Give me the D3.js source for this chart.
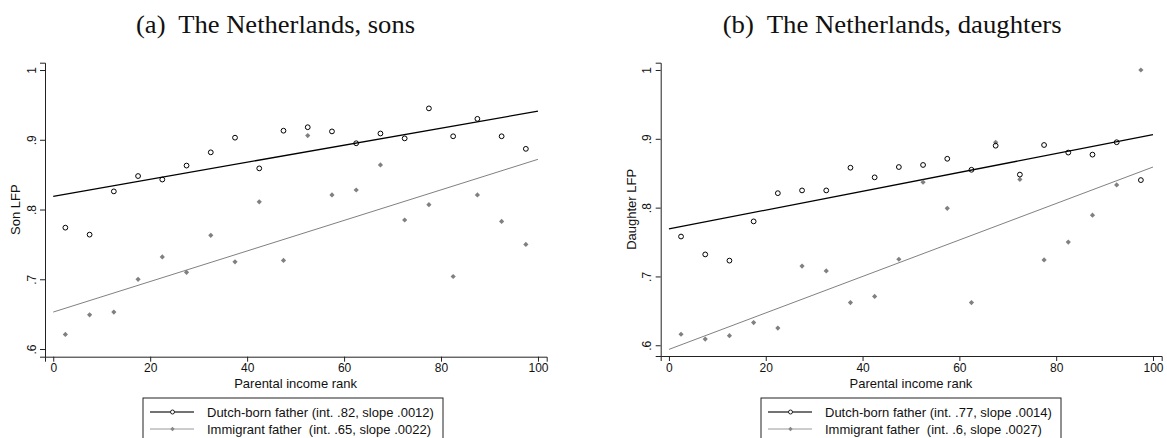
<!DOCTYPE html>
<html><head><meta charset="utf-8">
<script src="https://cdn.jsdelivr.net/npm/d3@7"></script>
<style>
body{margin:0;background:#fff;}
svg{display:block;}
text{white-space:pre;}
</style></head>
<body>
<svg id="chart" width="1167" height="438"></svg>
<script>
// ---- data ----
const ranks = [2.5,7.5,12.5,17.5,22.5,27.5,32.5,37.5,42.5,47.5,52.5,57.5,62.5,67.5,72.5,77.5,82.5,87.5,92.5,97.5];
const sonsDutch = [0.774,0.764,0.826,0.848,0.843,0.863,0.882,0.903,0.859,0.913,0.918,0.912,0.895,0.909,0.902,0.945,0.905,0.930,0.905,0.887];
const sonsImmig = [0.621,0.649,0.653,0.700,0.732,0.710,0.763,0.725,0.811,0.727,0.906,0.821,0.828,0.864,0.785,0.807,0.704,0.821,0.783,0.750];
const daughtersDutch = [0.758,0.732,0.723,0.780,0.821,0.825,0.825,0.858,0.844,0.859,0.862,0.871,0.855,0.890,0.848,0.891,0.880,0.877,0.895,0.840];
const daughtersImmig = [0.616,0.609,0.614,0.633,0.625,0.715,0.708,0.662,0.671,0.725,0.837,0.799,0.662,0.895,0.841,0.724,0.750,0.789,0.833,1.000];
const sonsIntercepts = [0.819, 0.653];
const sonsSlopes = [0.00122, 0.00219];
const daughtersIntercepts = [0.769, 0.594];
const daughtersSlopes = [0.00137, 0.00265];
const xTicks = [0,20,40,60,80,100];
const yTicks = [0.6,0.7,0.8,0.9,1];
const yTickLabels = [".6",".7",".8",".9","1"];
const titles = ["(a)  The Netherlands, sons", "(b)  The Netherlands, daughters"];
const yTitles = ["Son LFP", "Daughter LFP"];
const xTitle = "Parental income rank";
const legendSons = ["Dutch-born father (int. .82, slope .0012)", "Immigrant father  (int. .65, slope .0022)"];
const legendDaughters = ["Dutch-born father (int. .77, slope .0014)", "Immigrant father  (int. .6, slope .0027)"];

const svg = d3.select("#chart");
const sans = "'Liberation Sans', Arial, sans-serif";
const serif = "'Liberation Serif', 'Times New Roman', serif";

const panels = [
  {x0:45, x1:546.7, y0:62.7, y1:356.7, ydom:[0.589,1.0105], title:titles[0], titleX:136, titleW:279,
   ytitle:yTitles[0], ytitleX:15, ytickX:32, dutch:sonsDutch, immig:sonsImmig,
   ints:sonsIntercepts, slopes:sonsSlopes, legend:legendSons, legX:143},
  {x0:660.7, x1:1161.7, y0:62.7, y1:356, ydom:[0.5844,1.0106], title:titles[1], titleX:722.7, titleW:339,
   ytitle:yTitles[1], ytitleX:631.7, ytickX:646.7, dutch:daughtersDutch, immig:daughtersImmig,
   ints:daughtersIntercepts, slopes:daughtersSlopes, legend:legendDaughters, legX:761}
];

const dutchColor = "#000";
const immigColor = "#808080";

panels.forEach(p => {
  const x = d3.scaleLinear().domain([-1.7,101.8]).range([p.x0,p.x1]);
  const y = d3.scaleLinear().domain(p.ydom).range([p.y1,p.y0]);
  const g = svg.append("g");

  // title
  svg.append("text").attr("x",p.titleX).attr("y",33).attr("text-anchor","start")
    .attr("font-family",serif).attr("font-size",25.5).attr("fill","#111")
    .attr("textLength",p.titleW).attr("lengthAdjust","spacingAndGlyphs").text(p.title);

  // x axis
  const xa = g.append("g").attr("transform",`translate(0,${p.y1})`)
    .call(d3.axisBottom(x).tickValues(xTicks).tickSizeOuter(0).tickSize(5).tickPadding(2));
  xa.select(".domain").attr("stroke","#222");
  xa.selectAll(".tick line").attr("stroke","#222");
  xa.selectAll("text").attr("font-family",sans).attr("font-size",12).attr("fill","#111");

  // y axis
  const ya = g.append("g").attr("transform",`translate(${p.x0},0)`)
    .call(d3.axisLeft(y).tickValues(yTicks).tickFormat((d,i)=>yTickLabels[i]).tickSizeOuter(0).tickSize(5));
  ya.select(".domain").attr("stroke","#222");
  ya.selectAll(".tick line").attr("stroke","#222");
  ya.selectAll(".tick text").remove();
  ya.selectAll(".tick").append("text")
    .attr("transform",`translate(${p.ytickX - p.x0},0) rotate(-90)`)
    .attr("text-anchor","middle").attr("dy","0.35em")
    .attr("font-family",sans).attr("font-size",12).attr("fill","#111")
    .text((d,i)=>yTickLabels[i]);

  // axis titles
  svg.append("text").attr("x",(x(0)+x(100))/2).attr("y",388).attr("text-anchor","middle")
    .attr("font-family",sans).attr("font-size",13).attr("fill","#111").text(xTitle);
  svg.append("text").attr("transform",`translate(${p.ytitleX},${(p.y0+p.y1)/2}) rotate(-90)`)
    .attr("text-anchor","middle").attr("dy","0.35em")
    .attr("font-family",sans).attr("font-size",13).attr("fill","#111").text(p.ytitle);

  // fit lines
  const colors = [dutchColor, immigColor];
  const widths = [1.3, 1];
  p.ints.forEach((b0,i) => {
    g.append("line").attr("x1",x(0)).attr("y1",y(b0))
      .attr("x2",x(100)).attr("y2",y(b0+p.slopes[i]*100))
      .attr("stroke",colors[i]).attr("stroke-width",widths[i]);
  });

  // immigrant points (gray diamonds)
  g.selectAll(".im").data(p.immig).enter().append("path")
    .attr("d",(d,i)=>{const cx=x(ranks[i]), cy=y(d), r=2.6; return `M${cx},${cy-r}L${cx+r},${cy}L${cx},${cy+r}L${cx-r},${cy}Z`;})
    .attr("fill",immigColor);
  // dutch points (hollow circles)
  g.selectAll(".du").data(p.dutch).enter().append("circle")
    .attr("cx",(d,i)=>x(ranks[i])).attr("cy",d=>y(d)).attr("r",2.4)
    .attr("fill","none").attr("stroke","#000").attr("stroke-width",1);

  // legend
  const lg = svg.append("g").attr("transform",`translate(${p.legX},398)`);
  lg.append("rect").attr("x",0).attr("y",0).attr("width",300).attr("height",50)
    .attr("fill","#fff").attr("stroke","#222").attr("stroke-width",1);
  const legColors = ["#444","#999"];
  const legW = [1.6,1.1];
  [0,1].forEach(i=>{
    const yy = 14 + i*17;
    lg.append("line").attr("x1",7).attr("x2",51).attr("y1",yy).attr("y2",yy)
      .attr("stroke",legColors[i]).attr("stroke-width",legW[i]);
    if(i===0){
      lg.append("circle").attr("cx",29.5).attr("cy",yy).attr("r",2).attr("fill","#fff").attr("stroke","#222");
    } else {
      lg.append("path").attr("d",`M29.5,${yy-2.2}L31.7,${yy}L29.5,${yy+2.2}L27.3,${yy}Z`).attr("fill","#888");
    }
    lg.append("text").attr("x",64).attr("y",yy).attr("dy","0.35em")
      .attr("font-family",sans).attr("font-size",13).attr("fill","#111").text(p.legend[i]);
  });
});
</script>
</body></html>
